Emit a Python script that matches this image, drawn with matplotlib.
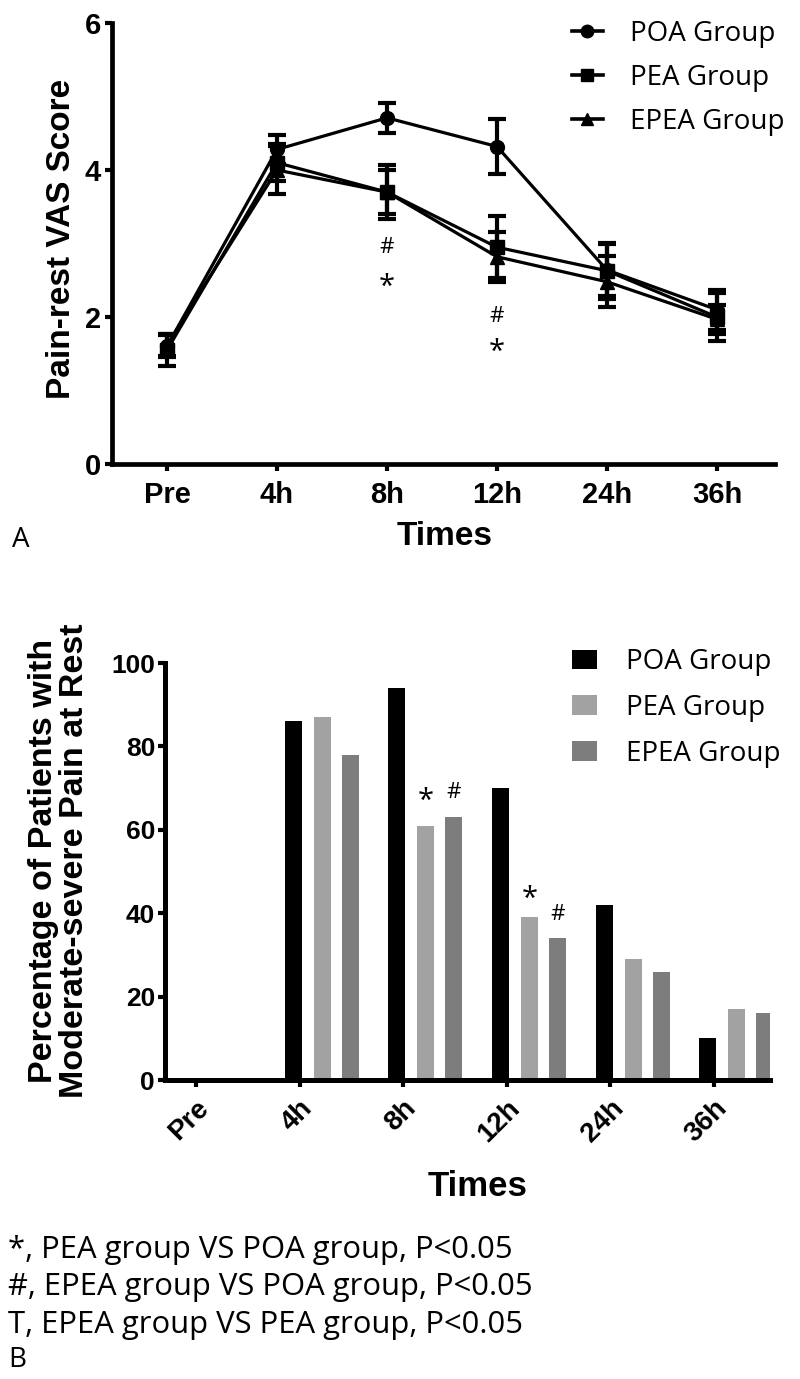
import matplotlib
matplotlib.use("Agg")
import matplotlib.pyplot as plt
from matplotlib.lines import Line2D
import numpy as np

# Panel A data (mean +/- error)
times = ['Pre', '4h', '8h', '12h', '24h', '36h']
poa_vas = [1.6, 4.28, 4.71, 4.32, 2.64, 2.1]
poa_err = [0.15, 0.2, 0.2, 0.38, 0.35, 0.27]
pea_vas = [1.55, 4.1, 3.7, 2.95, 2.63, 2.0]
pea_err = [0.22, 0.25, 0.37, 0.42, 0.38, 0.33]
epea_vas = [1.62, 4.0, 3.7, 2.82, 2.48, 1.97]
epea_err = [0.15, 0.33, 0.3, 0.34, 0.35, 0.2]

# Panel B data (percentage of patients)
poa_pct = [0, 86, 94, 70, 42, 10]
pea_pct = [0, 87, 61, 39, 29, 17]
epea_pct = [0, 78, 63, 34, 26, 16]

footnotes = ['*, PEA group VS POA group, P<0.05',
             '#, EPEA group VS POA group, P<0.05',
             'T, EPEA group VS PEA group, P<0.05']

BOLD = 'Liberation Sans'
REG = 'Open Sans'
H = 1379.0

fig = plt.figure(figsize=(8, 13.79), dpi=100)

# ---------- Panel A ----------
ax1 = fig.add_axes([0.14, 0.6635, 0.829, 0.3198])
x = np.arange(len(times))
handles = []
for vals, errs, mk, lab in [(poa_vas, poa_err, 'o', 'POA Group'),
                            (pea_vas, pea_err, 's', 'PEA Group'),
                            (epea_vas, epea_err, '^', 'EPEA Group')]:
    ax1.errorbar(x, vals, yerr=errs, color='black', marker=mk, markersize=10,
                 linewidth=2.3, elinewidth=3, capsize=6.5, capthick=3)
    handles.append(Line2D([], [], color='black', marker=mk, markersize=9,
                          linewidth=2.6, label=lab))

ax1.set_xlim(-0.5, 5.53)
ax1.set_ylim(0, 6)
ax1.set_yticks([0, 2, 4, 6])
ax1.set_xticks(x)
ax1.set_xticklabels(times)
for s in ['top', 'right']:
    ax1.spines[s].set_visible(False)
for s in ['left', 'bottom']:
    ax1.spines[s].set_linewidth(3.4)
ax1.tick_params(width=3, length=5)
ax1.tick_params(axis='x', pad=7)
ax1.tick_params(axis='y', pad=3)
for t in ax1.get_xticklabels() + ax1.get_yticklabels():
    t.set_fontfamily(BOLD)
    t.set_fontweight('bold')
    t.set_fontsize(21)
ax1.set_ylabel('Pain-rest VAS Score', fontfamily=BOLD, fontweight='bold',
               fontsize=24)
ax1.yaxis.set_label_coords(-0.053, 0.51)
ax1.set_xlabel('Times', fontfamily=BOLD, fontweight='bold', fontsize=24)
ax1.xaxis.set_label_coords(0.502, -0.13)
ax1.text(2, 2.94, '#', ha='center', va='center', fontsize=16, fontfamily=REG)
ax1.text(2, 2.4, '*', ha='center', va='center', fontsize=21, fontfamily=REG)
ax1.text(3, 2.01, '#', ha='center', va='center', fontsize=16, fontfamily=REG)
ax1.text(3, 1.52, '*', ha='center', va='center', fontsize=21, fontfamily=REG)
fig.legend(handles=handles, loc='upper left',
           bbox_to_anchor=(572 / 800, 1 - 20 / H), frameon=False,
           prop={'family': REG, 'size': 20}, handlelength=1.1,
           labelspacing=0.58, handletextpad=1.0, borderpad=0,
           borderaxespad=0)
fig.text(12 / 800, 1 - 540 / H, 'A', fontsize=20, fontfamily=REG, va='center')

# ---------- Panel B ----------
ax2 = fig.add_axes([0.206, 0.2168, 0.7565, 0.3024])
w = 0.165
ax2.bar(x - 0.06, poa_pct, w, color='black', label='POA Group')
ax2.bar(x + 0.22, pea_pct, w, color='#a2a2a2', label='PEA Group')
ax2.bar(x + 0.49, epea_pct, w, color='#7d7d7d', label='EPEA Group')
ax2.set_xlim(-0.3, 5.54)
ax2.set_ylim(0, 100)
ax2.set_yticks([0, 20, 40, 60, 80, 100])
ax2.set_xticks(x)
ax2.set_xticklabels(times, rotation=45, ha='right', rotation_mode='anchor')
for s in ['top', 'right']:
    ax2.spines[s].set_visible(False)
for s in ['left', 'bottom']:
    ax2.spines[s].set_linewidth(3.6)
ax2.tick_params(width=3, length=5)
ax2.tick_params(axis='y', pad=2)
ax2.tick_params(axis='x', pad=6)
for t in ax2.get_yticklabels():
    t.set_fontfamily(BOLD)
    t.set_fontweight('bold')
    t.set_fontsize(19)
for t in ax2.get_xticklabels():
    t.set_fontfamily(BOLD)
    t.set_fontweight('bold')
    t.set_fontsize(20)
ax2.set_ylabel('Percentage of Patients with\nModerate-severe Pain at Rest',
               fontfamily=BOLD, fontweight='bold', fontsize=24.5,
               linespacing=1.0)
ax2.yaxis.set_label_coords(-0.124, 0.525)
ax2.set_xlabel('Times', fontfamily=BOLD, fontweight='bold', fontsize=25)
ax2.xaxis.set_label_coords(0.516, -0.215)
ax2.text(2.22, 66.7, '*', ha='center', va='center', fontsize=21, fontfamily=REG)
ax2.text(2.49, 69, '#', ha='center', va='center', fontsize=16, fontfamily=REG)
ax2.text(3.22, 43.4, '*', ha='center', va='center', fontsize=21, fontfamily=REG)
ax2.text(3.49, 39.8, '#', ha='center', va='center', fontsize=16, fontfamily=REG)
fig.legend(*ax2.get_legend_handles_labels(), loc='upper left',
           bbox_to_anchor=(572 / 800, 1 - 648 / H), frameon=False,
           prop={'family': REG, 'size': 20}, handlelength=0.9,
           handleheight=0.7, labelspacing=0.64, handletextpad=1.05,
           borderpad=0, borderaxespad=0)

for i, line in enumerate(footnotes):
    fig.text(8 / 800, 1 - (1250 + i * 37.5) / H, line, fontsize=22.3,
             fontfamily=REG, va='center')
fig.text(8 / 800, 1 - 1360 / H, 'B', fontsize=20, fontfamily=REG, va='center')

fig.savefig('out.png', dpi=100)
